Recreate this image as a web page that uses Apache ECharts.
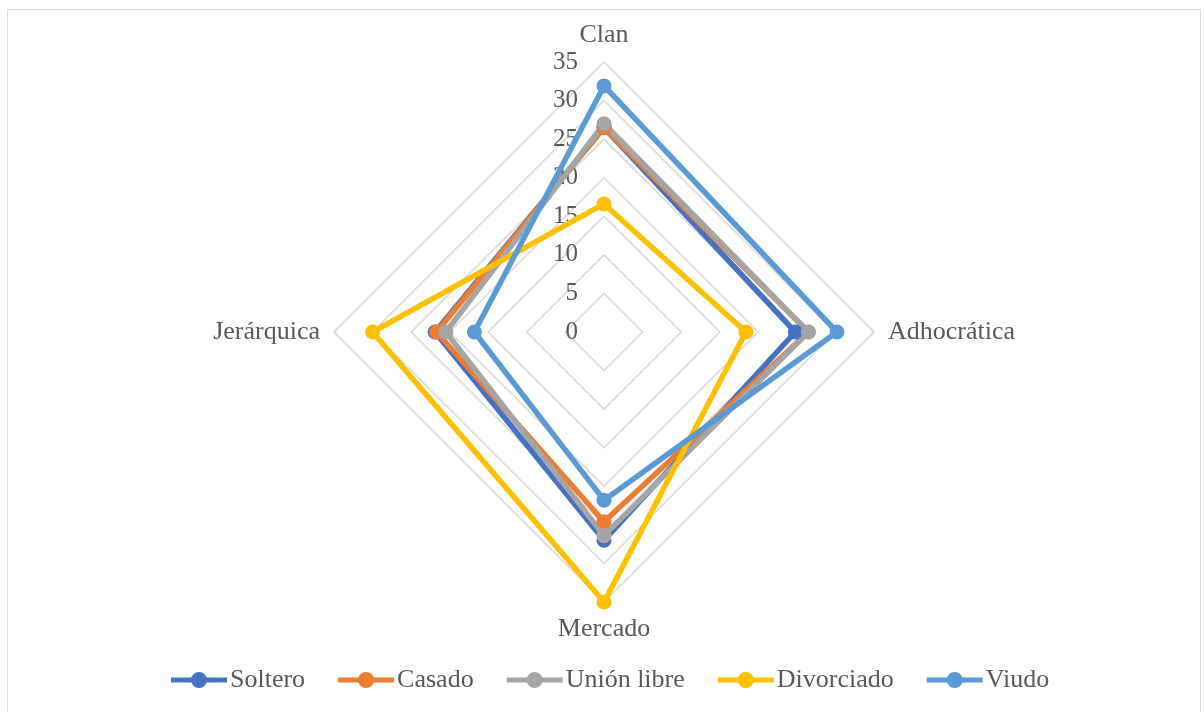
<!DOCTYPE html>
<html>
<head>
<meta charset="utf-8">
<script src="https://cdn.jsdelivr.net/npm/echarts@6/dist/echarts.min.js"></script>
<style>
  html, body { margin: 0; padding: 0; background: #fff; }
  #chart { width: 1204px; height: 712px; }
</style>
</head>
<body>
<div id="chart"></div>
<script>
// categorías (en sentido antihorario, como las coloca ECharts)
var categories = ['Clan', 'Jerárquica', 'Mercado', 'Adhocrática'];
var tickLabels = ['0', '5', '10', '15', '20', '25', '30', '35'];

var soltero    = [26.5, 21.9, 27.0, 24.8];
var casado     = [26.5, 21.7, 24.6, 26.5];
var unionLibre = [27.0, 20.5, 26.4, 26.5];
var divorciado = [16.6, 30.0, 35.0, 18.4];
var viudo      = [31.9, 16.8, 21.8, 30.2];

var names  = ['Soltero', 'Casado', 'Unión libre', 'Divorciado', 'Viudo'];
var values = [soltero, casado, unionLibre, divorciado, viudo];
var colors = ['#4472C4', '#ED7D31', '#A5A5A5', '#FFC000', '#5B9BD5'];

var font = '"Liberation Serif", "Times New Roman", serif';
var cx = 604, cy = 332, r = 270;

var myChart = echarts.init(document.getElementById('chart'));

option = {
  animation: false,
  color: colors,
  graphic: [{
    type: 'rect',
    shape: {x: 7.5, y: 9.5, width: 1193, height: 720},
    style: {fill: 'none', stroke: '#d9d9d9', lineWidth: 1},
    silent: true
  }],
  legend: {
    top: 662,
    left: 166,
    itemWidth: 56,
    itemHeight: 16,
    itemGap: 33,
    icon: 'path://M0,5.5 L56,5.5 L56,10.5 L0,10.5 Z M36,8 A8,8 0 1 1 20,8 A8,8 0 1 1 36,8 Z',
    textStyle: {fontFamily: font, fontSize: 26, color: '#595959', padding: [0, 0, 0, -2]},
    data: names
  },
  // eje auxiliar para las etiquetas 0..35 sobre el radio superior
  grid: {left: cx - 20, width: 20, top: cy - r, height: r},
  xAxis: {type: 'value', show: false},
  yAxis: {
    type: 'value',
    min: 0, max: 35, interval: 5,
    axisLine: {show: false},
    axisTick: {show: false},
    splitLine: {show: false},
    axisLabel: {
      margin: 6,
      fontFamily: font, fontSize: 25, color: '#595959',
      formatter: function (v) { return tickLabels[v / 5]; }
    }
  },
  radar: {
    center: [cx, cy],
    radius: r,
    shape: 'polygon',
    startAngle: 90,
    splitNumber: 7,
    indicator: categories.map(function (c) { return {name: c, min: 0, max: 35}; }),
    axisName: {fontFamily: font, fontSize: 26, color: '#595959'},
    nameGap: 14,
    axisLine: {show: false},
    axisTick: {show: false},
    axisLabel: {show: false},
    splitArea: {show: false},
    splitLine: {lineStyle: {color: '#d9d9d9', width: 1.5}}
  },
  series: [{
    type: 'radar',
    symbol: 'circle',
    symbolSize: 15,
    data: names.map(function (n, i) {
      return {
        name: n,
        value: values[i],
        itemStyle: {color: colors[i]},
        lineStyle: {color: colors[i], width: 5.5}
      };
    })
  }]
};

myChart.setOption(option);
</script>
</body>
</html>
